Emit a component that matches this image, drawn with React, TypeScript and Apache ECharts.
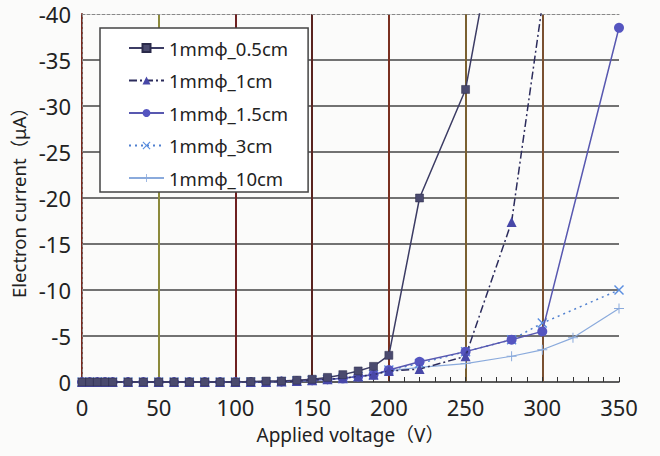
import React, { useEffect, useRef } from "react";
import * as echarts from "echarts";

const voltages = [0, 5, 10, 15, 20, 30, 40, 50, 60, 70, 80, 90, 100, 110, 120, 130, 140, 150, 160, 170, 180, 190, 200, 220, 250, 280, 300, 320, 350];

const seriesNames = ["1mmφ_0.5cm", "1mmφ_1cm", "1mmφ_1.5cm", "1mmφ_3cm", "1mmφ_10cm"];

const cur05 = [0, 0, 0, 0, 0, 0, 0, 0, 0, 0, 0, 0, 0, -0.05, -0.1, -0.1, -0.2, -0.3, -0.5, -0.8, -1.2, -1.7, -2.9, -20, -31.8, -59, null, null, null];
const cur1 = [0, 0, 0, 0, 0, 0, 0, 0, 0, 0, 0, 0, 0, 0, 0, -0.05, -0.1, -0.2, -0.3, -0.4, -0.6, -0.8, -1.2, -1.4, -2.8, -17.4, -41, null, null];
const cur15 = [0, 0, 0, 0, 0, 0, 0, 0, 0, 0, 0, 0, 0, 0, 0, -0.05, -0.1, -0.2, -0.3, -0.4, -0.6, -0.8, -1.3, -2.2, -3.3, -4.6, -5.5, null, -38.5];
const cur3 = [0, 0, 0, 0, 0, 0, 0, 0, 0, 0, 0, 0, 0, 0, 0, -0.05, -0.1, -0.2, -0.3, -0.4, -0.6, -0.8, -1.3, -2.0, -3.3, -4.6, -6.4, null, -10];
const cur10 = [0, 0, 0, 0, 0, 0, 0, 0, 0, 0, 0, 0, 0, 0, 0, -0.05, -0.1, -0.2, -0.3, -0.4, -0.6, -0.8, -1.2, -1.6, -2.0, -2.8, -3.5, -4.8, -8];

const yTicks = [-40, -35, -30, -25, -20, -15, -10, -5, 0];
const xTicks = [0, 50, 100, 150, 200, 250, 300, 350];

const FONT = "'Noto Sans', 'Noto Sans CJK JP', sans-serif";

const pairs = (vals: (number | null)[]) =>
  voltages.map((v, i) => [v, vals[i]]).filter((p) => p[1] !== null);

const X_SYMBOL = "path://M0,1 L1,0 L5,4 L9,0 L10,1 L6,5 L10,9 L9,10 L5,6 L1,10 L0,9 L4,5 Z";
const PLUS_SYMBOL = "path://M4.5,0 H5.5 V4.5 H10 V5.5 H5.5 V10 H4.5 V5.5 H0 V4.5 H4.5 Z";

export default function App() {
  const ref = useRef<HTMLDivElement>(null);
  useEffect(() => {
    if (!ref.current) return;
    const chart = echarts.init(ref.current, null, { renderer: "svg" });
    const styles = [
      { line: { color: "#3c3c64", width: 1.5, type: "solid" }, symbol: "rect", size: 8, item: { color: "#4a4a6e", borderColor: "#2a2a4a", borderWidth: 0.5 } },
      { line: { color: "#2c2c5c", width: 1.5, type: [8, 3, 2, 3] }, symbol: "triangle", size: 10, item: { color: "#4848a8" } },
      { line: { color: "#5858b0", width: 1.5, type: "solid" }, symbol: "circle", size: 10, item: { color: "#5555c0" } },
      { line: { color: "#5080d0", width: 1.5, type: [2, 4] }, symbol: X_SYMBOL, size: 10, item: { color: "#5a8ee0" } },
      { line: { color: "#8aaadc", width: 1.2, type: "solid" }, symbol: PLUS_SYMBOL, size: 10, item: { color: "#8aaadc" } },
    ];
    const data = [cur05, cur1, cur15, cur3, cur10];
    chart.setOption({
      animation: false,
      backgroundColor: "#fbfbfa",
      textStyle: { fontFamily: FONT },
      grid: { left: 82, right: 41, top: 14, bottom: 74 },
      legend: {
        orient: "vertical",
        left: 100,
        top: 28,
        data: seriesNames,
        backgroundColor: "#ffffff",
        borderColor: "#444",
        borderWidth: 1.5,
        padding: [10, 20, 4, 28],
        itemWidth: 35,
        itemHeight: 10,
        itemGap: 12.5,
        textStyle: { fontSize: 18.5, color: "#222", fontFamily: FONT, lineHeight: 20 },
      },
      xAxis: [
        {
          type: "value",
          min: 0,
          max: 350,
          interval: 50,
          position: "bottom",
          name: "Applied voltage（V）",
          nameLocation: "middle",
          nameGap: 43,
          nameTextStyle: { fontSize: 19, color: "#222", fontFamily: FONT },
          axisLine: { show: true, onZero: false, lineStyle: { color: "#555", width: 1.5 } },
          axisTick: { show: true, inside: true, length: 5, lineStyle: { color: "#333" } },
          minorTick: { show: true, splitNumber: 5, length: 5, lineStyle: { color: "#333" } },
          axisLabel: { fontSize: 22, color: "#222", margin: 14, fontFamily: FONT, customValues: xTicks },
          splitLine: {
            show: true,
            showMinLine: false,
            showMaxLine: false,
            lineStyle: { color: ["#8c8a3c", "#6e2020", "#5a2420", "#7a3020", "#7a6030", "#7a5030"], width: 2 },
          },
        },
        {
          type: "value",
          min: 0,
          max: 350,
          position: "top",
          axisLine: { show: true, onZero: false, lineStyle: { color: "#888", width: 1, type: [3, 2] } },
          axisTick: { show: false },
          axisLabel: { show: false },
          splitLine: { show: false },
        },
      ],
      yAxis: [
        {
          type: "value",
          min: -40,
          max: 0,
          interval: 5,
          inverse: true,
          name: "Electron current（μA）",
          nameLocation: "middle",
          nameGap: 52,
          nameTextStyle: { fontSize: 18.5, color: "#222", fontFamily: FONT },
          axisLine: { show: true, lineStyle: { color: "#7a2a20", width: 2 } },
          axisTick: { show: false },
          axisLabel: { fontSize: 22, color: "#222", margin: 11, fontFamily: FONT, customValues: yTicks },
          splitLine: { show: true, showMinLine: false, lineStyle: { color: "#444", width: 1.5 } },
        },
        {
          type: "value",
          min: -40,
          max: 0,
          inverse: true,
          position: "right",
          axisLine: { show: true, lineStyle: { color: "#888", width: 1, type: [3, 2] } },
          axisTick: { show: false },
          axisLabel: { show: false },
          splitLine: { show: false },
        },
      ],
      series: seriesNames.map((name, i) => ({
        name,
        type: "line",
        xAxisIndex: 0,
        yAxisIndex: 0,
        data: pairs(data[i]),
        clip: true,
        symbol: styles[i].symbol,
        symbolSize: styles[i].size,
        showSymbol: true,
        lineStyle: styles[i].line,
        itemStyle: styles[i].item,
        z: 10 - i,
      })),
    });
    return () => chart.dispose();
  }, []);
  return <div ref={ref} style={{ width: 660, height: 456, position: "absolute", left: 0, top: 0 }} />;
}
